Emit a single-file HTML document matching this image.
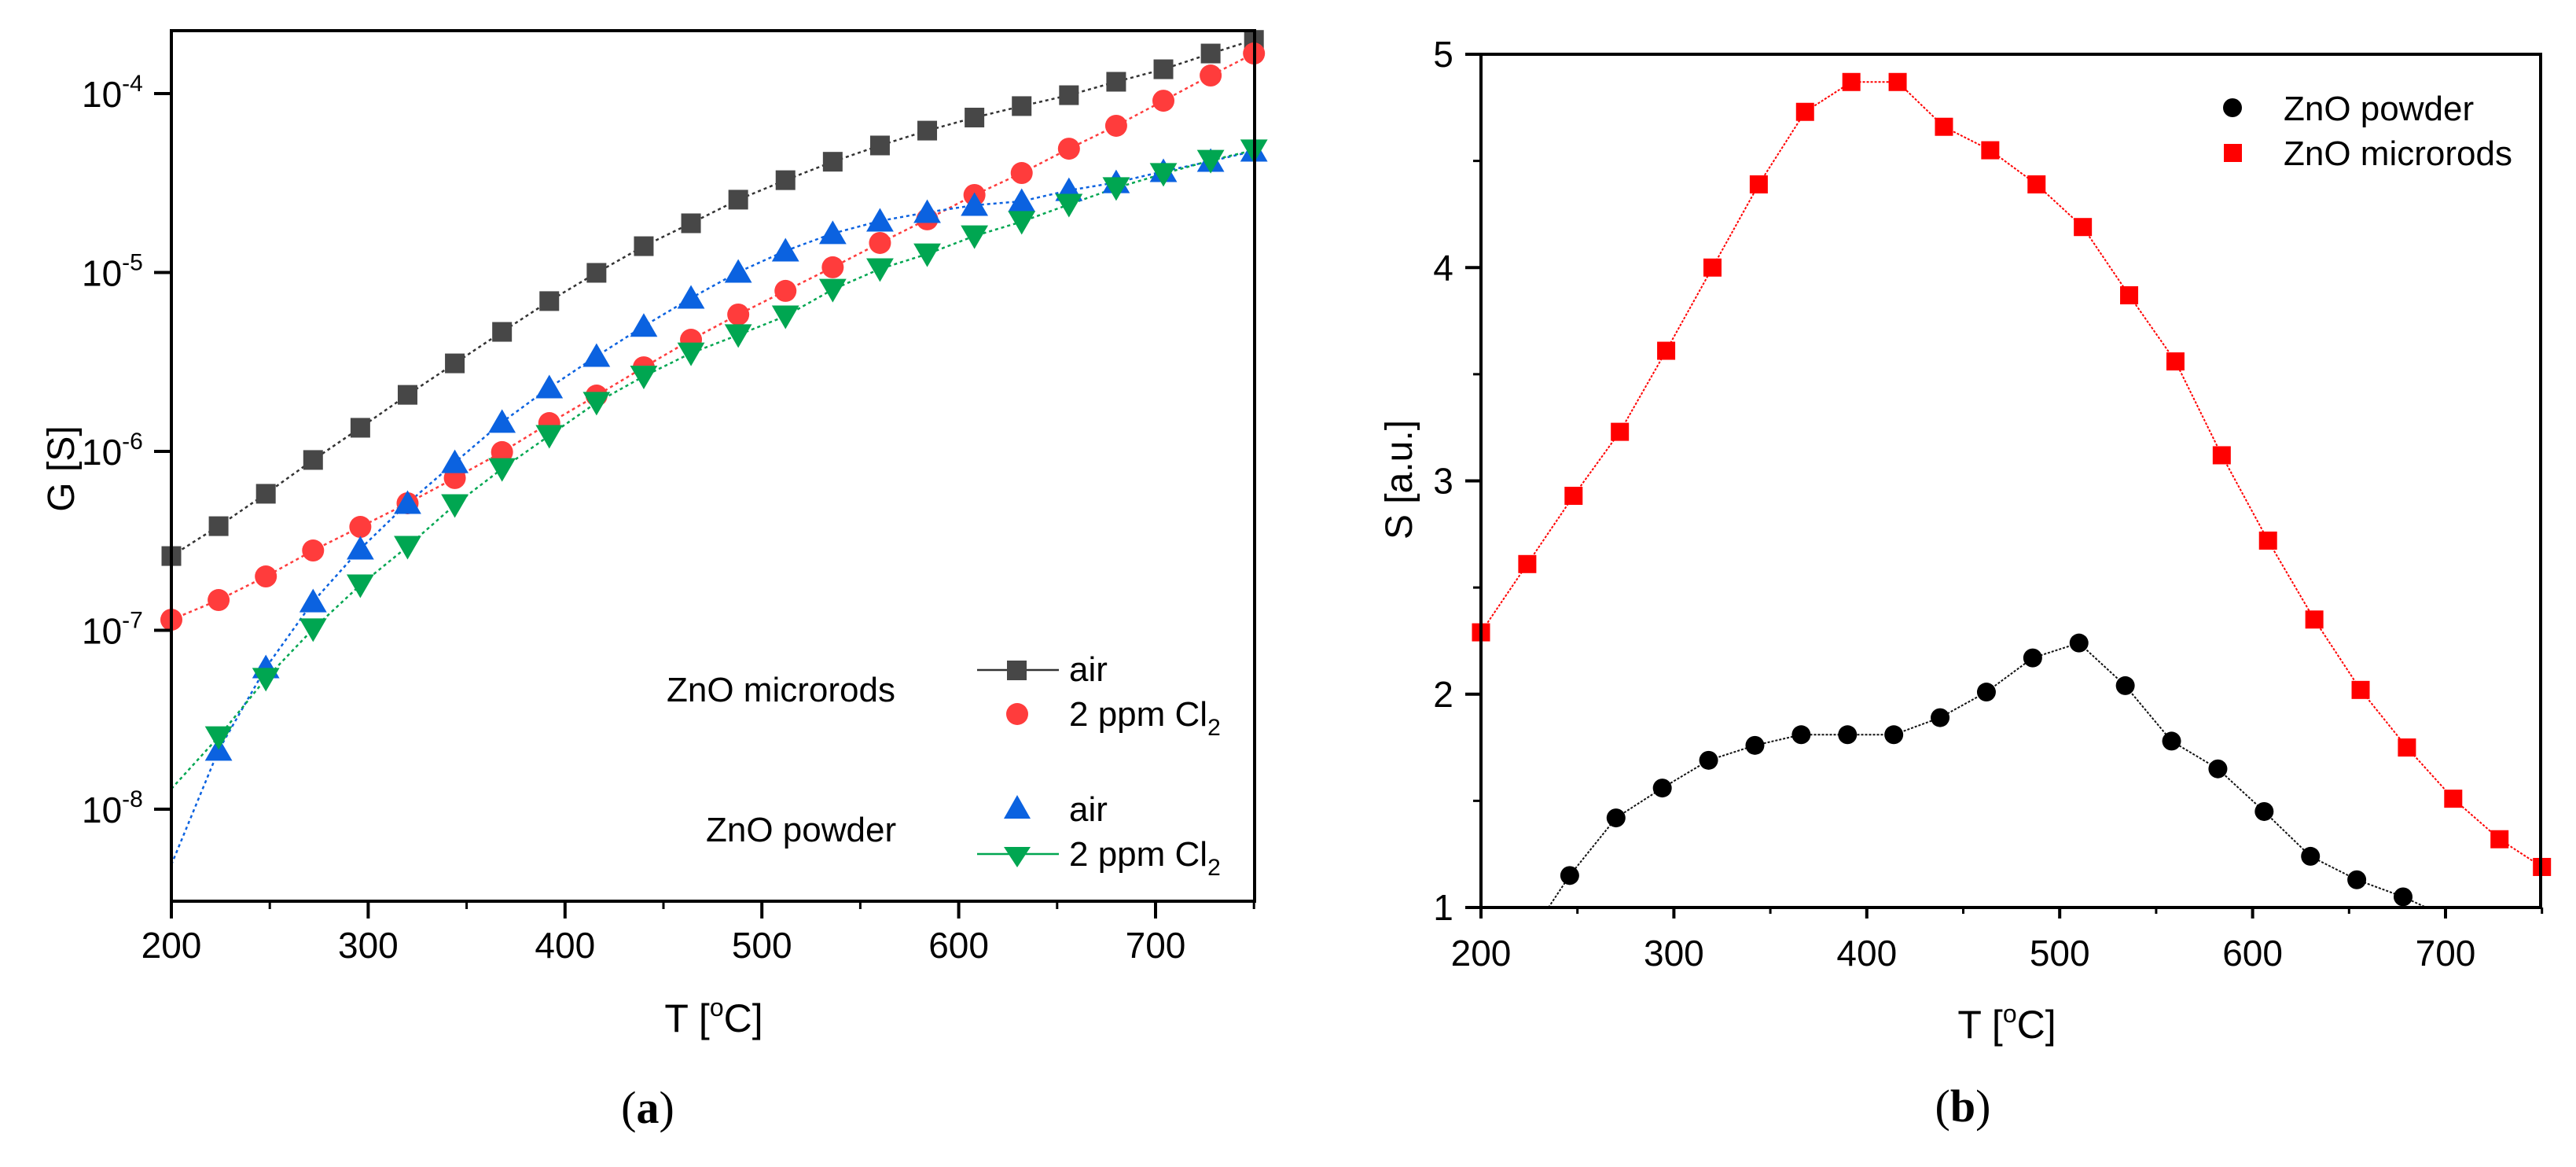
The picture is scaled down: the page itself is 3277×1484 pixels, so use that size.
<!DOCTYPE html>
<html><head><meta charset="utf-8"><style>
html,body{margin:0;padding:0;background:#fff}
svg{display:block}
text{font-family:"Liberation Sans",Arial,sans-serif;fill:#000}
</style></head><body>
<svg id="s" width="3277" height="1484" viewBox="0 0 3277 1484" xmlns="http://www.w3.org/2000/svg">
<g id="pa"></g>
<g id="pb"></g>
</svg>
<script>
// Panel (a) data: log10(G [S]) vs T
const tempsA = [200,224,248,272,296,320,344,368,392,416,440,464,488,512,536,560,584,608,632,656,680,704,728,750];
const microAir = [-6.585,-6.418,-6.237,-6.048,-5.868,-5.684,-5.508,-5.332,-5.160,-5.002,-4.853,-4.725,-4.593,-4.484,-4.381,-4.290,-4.207,-4.134,-4.070,-4.009,-3.934,-3.864,-3.776,-3.700];
const microCl2 = [-6.941,-6.831,-6.699,-6.554,-6.422,-6.290,-6.149,-6.004,-5.842,-5.688,-5.530,-5.376,-5.235,-5.103,-4.971,-4.835,-4.703,-4.567,-4.444,-4.308,-4.180,-4.040,-3.899,-3.776];
const powderAir = [null,-7.67,-7.209,-6.84,-6.545,-6.29,-6.062,-5.837,-5.644,-5.468,-5.30,-5.143,-4.998,-4.879,-4.782,-4.712,-4.664,-4.624,-4.602,-4.541,-4.497,-4.435,-4.378,-4.321];
const powderCl2 = [null,-7.596,-7.27,-6.993,-6.747,-6.532,-6.299,-6.097,-5.912,-5.727,-5.58,-5.451,-5.349,-5.244,-5.095,-4.980,-4.897,-4.796,-4.716,-4.620,-4.527,-4.448,-4.374,-4.316];
const powderAirStart = -8.31;
const powderCl2Start = -7.886;
const xTicksA = [200,300,400,500,600,700];
const yTicksA = [-4,-5,-6,-7,-8];
// Panel (b) data: S vs T
const tempsRods = [200,224,248,272,296,320,344,368,392,416,440,464,488,512,536,560,584,608,632,656,680,704,728,750];
const sRods = [2.29,2.61,2.93,3.23,3.61,4.0,4.39,4.73,4.87,4.87,4.66,4.55,4.39,4.19,3.87,3.56,3.12,2.72,2.35,2.02,1.75,1.51,1.32,1.19];
const tempsPowder = [246,270,294,318,342,366,390,414,438,462,486,510,534,558,582,606,630,654,678];
const sPowder = [1.15,1.42,1.56,1.69,1.76,1.81,1.81,1.81,1.89,2.01,2.17,2.24,2.04,1.78,1.65,1.45,1.24,1.13,1.05];
const xTicksB = [200,300,400,500,600,700];
const yTicksB = [1,2,3,4,5];

const NS="http://www.w3.org/2000/svg";
function mk(parent,tag,attrs){const e=document.createElementNS(NS,tag);for(const k in attrs)e.setAttribute(k,attrs[k]);parent.appendChild(e);return e;}

// ---------- Panel A ----------
const A=document.getElementById('pa');
const aL=218,aR=1596,aT=39,aB=1146;
const xA=t=>aL+(t-200)*2.504;
const yA=v=>119+(-4-v)*227.5;
function polyA(ts,vs,color,name,start){
  let pts=[];
  if(start!==undefined) pts.push(xA(200)+','+yA(start));
  ts.forEach((t,i)=>{if(vs[i]!==null)pts.push(xA(t)+','+yA(vs[i]));});
  const p=mk(A,'polyline',{points:pts.join(' '),fill:'none',stroke:color,'stroke-width':2.5,'stroke-dasharray':'4 4'});
  
  
}
function marker(g,kind,cx,cy,sz,color,name){
  let e;
  if(kind==='sq') e=mk(g,'rect',{x:cx-sz/2,y:cy-sz/2,width:sz,height:sz,fill:color});
  else if(kind==='ci') e=mk(g,'circle',{cx:cx,cy:cy,r:sz/2,fill:color});
  else if(kind==='up') e=mk(g,'polygon',{points:`${cx},${cy-sz*0.55} ${cx-sz*0.58},${cy+sz*0.45} ${cx+sz*0.58},${cy+sz*0.45}`,fill:color});
  else e=mk(g,'polygon',{points:`${cx},${cy+sz*0.55} ${cx-sz*0.58},${cy-sz*0.45} ${cx+sz*0.58},${cy-sz*0.45}`,fill:color});
  
  
  return e;
}
const cBlack='#474747',cRed='#ff3c3c',cBlue='#0b62e0',cGreen='#00a651';
polyA(tempsA,microAir,'#333','micro-air');
polyA(tempsA,microCl2,cRed,'micro-cl2');
polyA(tempsA,powderAir,cBlue,'powder-air',powderAirStart);
polyA(tempsA,powderCl2,cGreen,'powder-cl2',powderCl2Start);
tempsA.forEach((t,i)=>{
  marker(A,'sq',xA(t),yA(microAir[i]),25,cBlack,'micro-air-point');
});
tempsA.forEach((t,i)=>{
  marker(A,'ci',xA(t),yA(microCl2[i]),28,cRed,'micro-cl2-point');
});
tempsA.forEach((t,i)=>{
  if(powderAir[i]!==null) marker(A,'up',xA(t),yA(powderAir[i]),30,cBlue,'powder-air-point');
});
tempsA.forEach((t,i)=>{
  if(powderCl2[i]!==null) marker(A,'dn',xA(t),yA(powderCl2[i]),30,cGreen,'powder-cl2-point');
});
// frame
let fr=mk(A,'rect',{x:aL,y:aT,width:aR-aL,height:aB-aT,fill:'none',stroke:'#000','stroke-width':4});


xTicksA.forEach(t=>{
  mk(A,'line',{x1:xA(t),y1:aB,x2:xA(t),y2:aB+22,stroke:'#000','stroke-width':4});
  mk(A,'line',{x1:xA(t+50),y1:aB,x2:xA(t+50),y2:aB+10,stroke:'#000','stroke-width':3});
  const tx=mk(A,'text',{x:xA(t),y:1218,'font-size':46,'text-anchor':'middle'});
  tx.textContent=t;
  
  
});
yTicksA.forEach(v=>{
  mk(A,'line',{x1:aL-22,y1:yA(v),x2:aL,y2:yA(v),stroke:'#000','stroke-width':4});
  const tx=mk(A,'text',{x:104,y:yA(v)+17,'font-size':46});
  tx.innerHTML='10<tspan dy="-20" font-size="30">'+v+'</tspan>';
  
  
});
</script>
<script>
// static texts panel A
(function(){
const A=document.getElementById('pa');
A.insertAdjacentHTML('beforeend',`
<text x="78" y="596" font-size="48" text-anchor="middle" transform="rotate(-90 78 596)" dy="16">G [S]</text>
<text x="908" y="1312" font-size="50" text-anchor="middle">T [<tspan dy="-20" font-size="32">o</tspan><tspan dy="20">C]</tspan></text>
<text x="824" y="1428" font-size="58" text-anchor="middle" style="font-family:'Liberation Serif',serif">(<tspan font-weight="bold">a</tspan>)</text>
<text x="848" y="892" font-size="44">ZnO microrods</text>
<text x="898" y="1070" font-size="44">ZnO powder</text>
<g><line x1="1243" y1="852" x2="1347" y2="852" stroke="#333" stroke-width="2.5"/><rect x="1281" y="840" width="25" height="25" fill="#474747"/><text x="1360" y="866" font-size="44">air</text></g>
<g><circle cx="1294" cy="908" r="14" fill="#ff3c3c"/><text x="1360" y="923" font-size="44">2 ppm Cl<tspan dy="12" font-size="30">2</tspan></text></g>
<g><polygon points="1294,1011 1277,1041 1311,1041" fill="#0b62e0"/><text x="1360" y="1044" font-size="44">air</text></g>
<g><line x1="1243" y1="1086" x2="1347" y2="1086" stroke="#00a651" stroke-width="2.5"/><polygon points="1294,1103 1277,1077 1311,1077" fill="#00a651"/><text x="1360" y="1101" font-size="44">2 ppm Cl<tspan dy="12" font-size="30">2</tspan></text></g>
`);
})();
</script>
<script>
// ---------- Panel B ----------
(function(){
const B=document.getElementById('pb');
const bL=1884,bR=3232,bT=69,bB=1154;
const xB=t=>bL+(t-200)*2.454;
const yB=v=>bB-(v-1)*271.25;
let p=mk(B,'polyline',{points:tempsRods.map((t,i)=>xB(t)+','+yB(sRods[i])).join(' '),fill:'none',stroke:'#ff0000','stroke-width':2,'stroke-dasharray':'3 2'});


let pts=[xB(235)+','+yB(1.0)].concat(tempsPowder.map((t,i)=>xB(t)+','+yB(sPowder[i])));
pts.push(xB(690)+','+yB(1.0));
p=mk(B,'polyline',{points:pts.join(' '),fill:'none',stroke:'#111','stroke-width':2,'stroke-dasharray':'3 2'});


tempsRods.forEach((t,i)=>{marker(B,'sq',xB(t),yB(sRods[i]),23,'#ff0000','rods-point');});
tempsPowder.forEach((t,i)=>{marker(B,'ci',xB(t),yB(sPowder[i]),24,'#000','powder-point');});
let fr=mk(B,'polyline',{points:`${bL},${bT} ${bL},${bB} ${bR},${bB} ${bR},${bT} ${bL},${bT}`,fill:'none',stroke:'#000','stroke-width':4});


xTicksB.forEach(t=>{
  mk(B,'line',{x1:xB(t),y1:bB,x2:xB(t),y2:bB+14,stroke:'#000','stroke-width':4});
  mk(B,'line',{x1:xB(t+50),y1:bB,x2:xB(t+50),y2:bB+8,stroke:'#000','stroke-width':3});
  const tx=mk(B,'text',{x:xB(t),y:1228,'font-size':46,'text-anchor':'middle'});
  tx.textContent=t;
  
  
});
yTicksB.forEach(v=>{
  mk(B,'line',{x1:bL-20,y1:yB(v),x2:bL,y2:yB(v),stroke:'#000','stroke-width':4});
  if(v<5) mk(B,'line',{x1:bL-10,y1:yB(v+0.5),x2:bL,y2:yB(v+0.5),stroke:'#000','stroke-width':3});
  const tx=mk(B,'text',{x:1836,y:yB(v)+16,'font-size':46,'text-anchor':'middle'});
  tx.textContent=v;
  
  
});
B.insertAdjacentHTML('beforeend',`
<text x="1780" y="610" font-size="48" text-anchor="middle" dy="16" transform="rotate(-90 1780 610)">S [a.u.]</text>
<text x="2553" y="1320" font-size="50" text-anchor="middle">T [<tspan dy="-20" font-size="32">o</tspan><tspan dy="20">C]</tspan></text>
<text x="2497" y="1426" font-size="58" text-anchor="middle" style="font-family:'Liberation Serif',serif">(<tspan font-weight="bold">b</tspan>)</text>
<g><circle cx="2840" cy="137" r="12" fill="#000"/><text x="2905" y="153" font-size="44">ZnO powder</text></g>
<g><rect x="2829" y="183" width="23" height="23" fill="#ff0000"/><text x="2905" y="210" font-size="44">ZnO microrods</text></g>
`);
})();
</script>
</body></html>
